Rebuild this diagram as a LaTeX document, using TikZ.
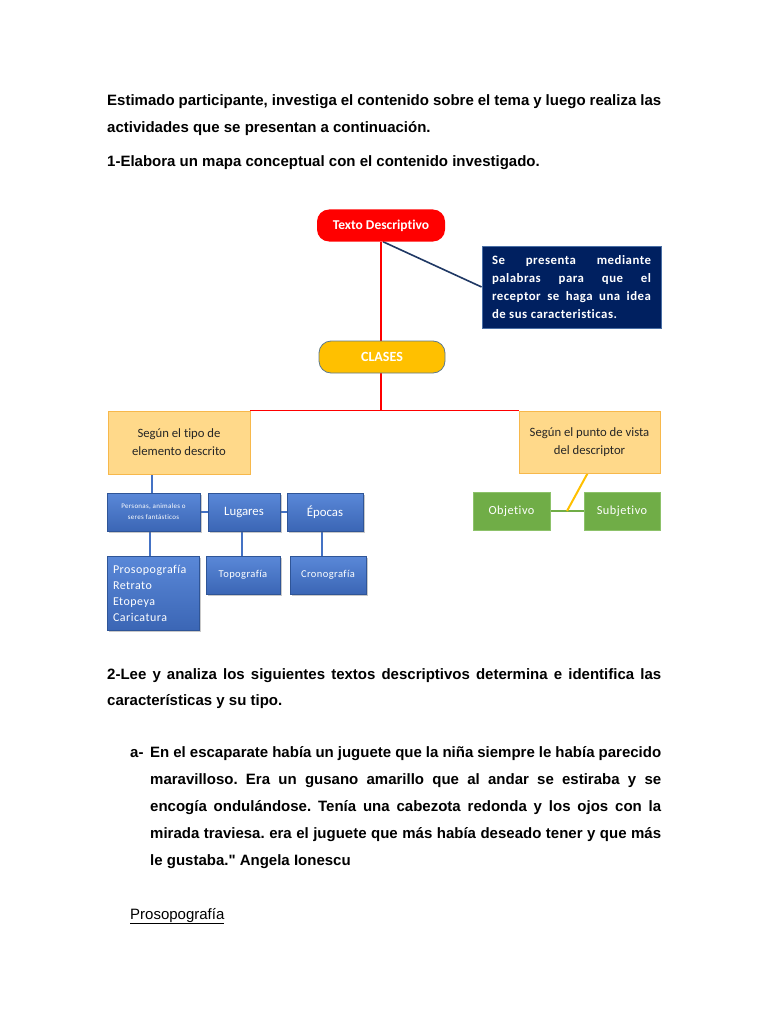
\documentclass[tikz,border=0pt]{standalone}
\usepackage{fontspec}
\setmainfont{Liberation Sans}
\newfontfamily\rawsans[Ligatures=TeXOff]{Liberation Sans}
\newfontfamily\calf[Ligatures={NoCommon}]{Carlito}
\newfontfamily\calsp[LetterSpace=4,Ligatures={NoCommon}]{Carlito}
\usetikzlibrary{calc,shadows,backgrounds}
\definecolor{navy}{HTML}{002060}
\definecolor{navyline}{HTML}{1F3864}
\definecolor{navyborder}{HTML}{4A6FA5}
\definecolor{gold}{HTML}{FFC000}
\definecolor{goldborder}{HTML}{5E7A8C}
\definecolor{paleor}{HTML}{FFD98A}
\definecolor{paleorb}{HTML}{F7B84B}
\definecolor{bluebox}{HTML}{4472C4}
\definecolor{bluetop}{HTML}{5A88D8}
\definecolor{bluebot}{HTML}{3B66B5}
\definecolor{blueborder}{HTML}{2F5597}
\definecolor{greenbox}{HTML}{70AD47}
\definecolor{greenborder}{HTML}{8DC26A}
\definecolor{txtdark}{HTML}{262626}
\tikzset{
  pill/.style={rounded corners=12pt, minimum height=32pt, inner sep=0pt, text=white, font=\calf\bfseries\fontsize{13.5}{15}\selectfont},
  yelbox/.style={draw=paleorb, fill=paleor, line width=0.8pt, inner sep=0pt, text=txtdark, align=center, font=\calf\fontsize{12.7}{18}\selectfont},
  bluebx/.style={draw=blueborder, line width=0.6pt, top color=bluetop, bottom color=bluebot, inner sep=0pt, text=white, align=center,
     drop shadow={shadow xshift=1.5pt, shadow yshift=-1.5pt, opacity=0.35, fill=black!60}},
  greenbx/.style={draw=greenborder, fill=greenbox, line width=0.6pt, inner sep=0pt, text=white, minimum width=77pt, minimum height=38pt,
     font=\calsp\fontsize{12.3}{14}\selectfont},
  redln/.style={draw=red, line width=1.4pt},
  blueln/.style={draw=bluebox, line width=2pt},
  bodytxt/.style={inner sep=0pt, anchor=base west, align=justify, font=\bfseries\fontsize{15}{26.5}\selectfont}
}
\begin{document}
\frenchspacing
\begin{tikzpicture}[x=1pt,y=-1pt]
\begin{pgfonlayer}{background}
\fill[white] (0,0) rectangle (768,1024);
\end{pgfonlayer}
\useasboundingbox (0,0) rectangle (768,1024);

% text
\node[bodytxt, text width=554pt] (p1) at (107,106) {Estimado participante, investiga el contenido sobre el tema y luego realiza las\linebreak actividades que se presentan a continuación.};
\node[bodytxt] (p2) at (107,167) {1-Elabora un mapa conceptual con el contenido investigado.};
\node[bodytxt, text width=554pt] (p3) at (107,679) {2-Lee y analiza los siguientes textos descriptivos determina e identifica las\linebreak características y su tipo.};
\node[bodytxt] (pa) at (130,757) {a-};
\node[bodytxt, text width=511pt, font=\bfseries\fontsize{15}{27}\selectfont] (p4) at (150,757) {En el escaparate había un juguete que la niña siempre le había parecido\linebreak maravilloso. Era un gusano amarillo que al andar se estiraba y se\linebreak encogía ondulándose. Tenía una cabezota redonda y los ojos con la\linebreak mirada traviesa. era el juguete que más había deseado tener y que más\linebreak le gustaba.{\rawsans\bfseries\char34} Angela Ionescu};
\node[inner sep=0pt, anchor=base west, font=\fontsize{15}{16}\selectfont] (p5) at (130,919) {\underline{Prosopografía}};

% diagram nodes
\node[pill, fill=red, minimum width=128pt] (td) at (381,225.5) {Texto Descriptivo};
\node[draw=navyborder, fill=navy, line width=0.8pt, minimum width=179pt, minimum height=82pt, inner sep=0pt, text=white,
      text width=159pt, align=justify, font=\calsp\bfseries\fontsize{12.8}{18}\selectfont] (nv) at (571.5,287)
      {Se presenta mediante\linebreak palabras para que el\linebreak receptor se haga una idea\linebreak de sus caracteristicas.};
\node[pill, fill=gold, draw=goldborder, line width=0.8pt, minimum width=126pt, font=\calf\bfseries\fontsize{14}{15}\selectfont] (cl) at (382,357) {CLASES};
\node[yelbox, minimum width=142pt, minimum height=63pt] (lt) at (179,442.5) {Según el tipo de\\elemento descrito};
\node[yelbox, minimum width=141pt, minimum height=62pt] (rt) at (589.5,442) {Según el punto de vista\\del descriptor};

\node[bluebx, minimum width=93pt, minimum height=38pt, font=\calsp\fontsize{7}{11}\selectfont] (pe) at (153.5,512) {Personas, animales o\\seres fantásticos};
\node[bluebx, minimum width=72pt, minimum height=38pt, font=\calf\fontsize{12.8}{14}\selectfont] (lu) at (244,512) {Lugares};
\node[bluebx, minimum width=76pt, minimum height=38pt, font=\calf\fontsize{12.8}{14}\selectfont] (ep) at (325,512) {Épocas};
\node[bluebx, minimum width=92pt, minimum height=74pt, align=left, text width=80pt, font=\calsp\fontsize{12}{16}\selectfont] (pr) at (153,593) {Prosopografía\\Retrato\\Etopeya\\Caricatura};
\node[bluebx, minimum width=74pt, minimum height=38pt, font=\calsp\fontsize{10.5}{11}\selectfont] (to) at (243,575) {Topografía};
\node[bluebx, minimum width=76pt, minimum height=38pt, font=\calsp\fontsize{10.5}{11}\selectfont] (cr) at (328,575) {Cronografía};

\node[greenbx] (ob) at (511.5,511) {Objetivo};
\node[greenbx, minimum width=76pt] (su) at (622,511) {Subjetivo};

% connectors
\begin{pgfonlayer}{background}
\draw[redln] (td.south) -- (td.south |- cl.north);
\draw[redln] (cl.south -| td.south) -- (td.south |- lt.north);
\draw[redln] (lt.north east) -- (rt.north west);
\draw[draw=navyline, line width=1.6pt] ([xshift=2pt]td.south) -- (nv.west);
\draw[blueln] ([xshift=-1.5pt]pe.north) -- ([xshift=-1.5pt]pe.north |- lt.south);
\draw[blueln] (pe.east) -- (lu.west);
\draw[blueln] (lu.east) -- (ep.west);
\draw[blueln] ([xshift=-4pt]pe.south) -- ([xshift=-4pt]pe.south |- pr.north);
\draw[blueln] ([xshift=-2.5pt]lu.south) -- ([xshift=-2.5pt]lu.south |- to.north);
\draw[blueln] ([xshift=-3pt]ep.south) -- ([xshift=-3pt]ep.south |- cr.north);
\coordinate (gm) at ($(ob.east)!0.5!(su.west)$);
\draw[draw=greenbox, line width=2.2pt] (ob.east) -- (su.west);
\draw[draw=gold, line width=2pt] ([xshift=-2pt]rt.south) -- (gm);
\end{pgfonlayer}
\end{tikzpicture}
\end{document}
